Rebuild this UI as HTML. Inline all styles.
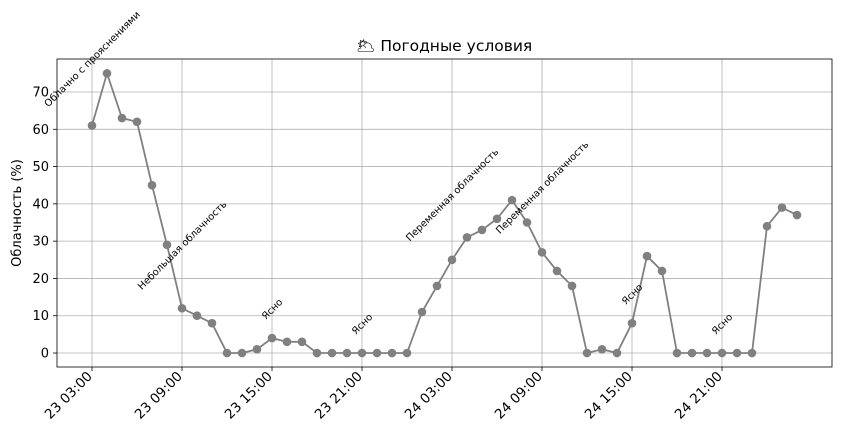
<!DOCTYPE html>
<html><head><meta charset="utf-8"><style>
body{margin:0;background:#fff;}
svg{display:block;font-family:"DejaVu Sans","Liberation Sans","Noto Sans CJK SC",sans-serif;}
</style></head><body>
<svg id="chart" width="841" height="440"></svg>
<script>
const values=[61,75,63,62,45,29,12,10,8,0,0,1,4,3,3,0,0,0,0,0,0,0,11,18,25,31,33,36,41,35,27,22,18,0,1,0,8,26,22,0,0,0,0,0,0,34,39,37];
const tickLabels=["23 03:00","23 09:00","23 15:00","23 21:00","24 03:00","24 09:00","24 15:00","24 21:00"];
const tickIdx=[0,6,12,18,24,30,36,42];
const yTicks=[0,10,20,30,40,50,60,70];
const annIdx=[0,6,12,18,24,30,36,42];
const annText=["Облачно с прояснениями","Небольшая облачность","Ясно","Ясно","Переменная облачность","Переменная облачность","Ясно","Ясно"];

const L=57,R=832,T=59,B=367;
const xmin=-2.333,xmax=49.333,ymin=-3.75,ymax=78.85;
const X=i=>L+(i-xmin)/(xmax-xmin)*(R-L);
const Y=v=>B-(v-ymin)/(ymax-ymin)*(B-T);
const svg=document.getElementById('chart');
const NS='http://www.w3.org/2000/svg';
function mk(tag,attrs,parent){const e=document.createElementNS(NS,tag);for(const k in attrs)e.setAttribute(k,attrs[k]);(parent||svg).appendChild(e);return e;}

tickIdx.forEach((t,i)=>{
  const g=mk('line',{x1:X(t),x2:X(t),y1:T,y2:B,stroke:'#b0b0b0','stroke-width':0.8});
  
  
  const tk=mk('line',{x1:X(t),x2:X(t),y1:B,y2:B+4,stroke:'#000','stroke-width':0.8});
  
  
  const x=X(t)+1,y=B+10;
  const tx=mk('text',{x:x,y:y,'font-size':13.5,'text-anchor':'end',transform:`rotate(-45 ${x} ${y})`});
  tx.textContent=tickLabels[i];
  
  
});
yTicks.forEach(v=>{
  const g=mk('line',{x1:L,x2:R,y1:Y(v),y2:Y(v),stroke:'#b0b0b0','stroke-width':0.8});
  
  
  const tk=mk('line',{x1:L-4,x2:L,y1:Y(v),y2:Y(v),stroke:'#000','stroke-width':0.8});
  
  
  const tx=mk('text',{x:L-8,y:Y(v)+4.5,'font-size':13,'text-anchor':'end'});
  tx.textContent=v;
  
  
});
const frame=mk('rect',{x:L,y:T,width:R-L,height:B-T,fill:'none',stroke:'#000','stroke-width':0.8});



const line=mk('polyline',{points:values.map((v,i)=>X(i)+','+Y(v)).join(' '),fill:'none',stroke:'#808080','stroke-width':1.8});


values.forEach((v,i)=>{
  const c=mk('circle',{cx:X(i),cy:Y(v),r:4.3,fill:'#808080'});
  
  
});

annIdx.forEach((idx,k)=>{
  const px=X(idx),py=Y(values[idx]);
  const t=mk('text',{x:0,y:0,'font-size':9.8,'text-anchor':'middle'});
  t.textContent=annText[k];
  
  
  const len=t.getComputedTextLength();
  const h=(len+10)*0.7071;
  const cy=py-17-h/2;
  t.setAttribute('transform',`translate(${px} ${cy}) rotate(-45) translate(0 3.5)`);
});

const title=mk('text',{x:444,y:51,'font-size':15.5,'text-anchor':'middle'});
title.textContent='🌥 Погодные условия';


const yl=mk('text',{x:21,y:213,'font-size':13,'text-anchor':'middle',transform:'rotate(-90 21 213)'});
yl.textContent='Облачность (%)';


</script>
</body></html>
